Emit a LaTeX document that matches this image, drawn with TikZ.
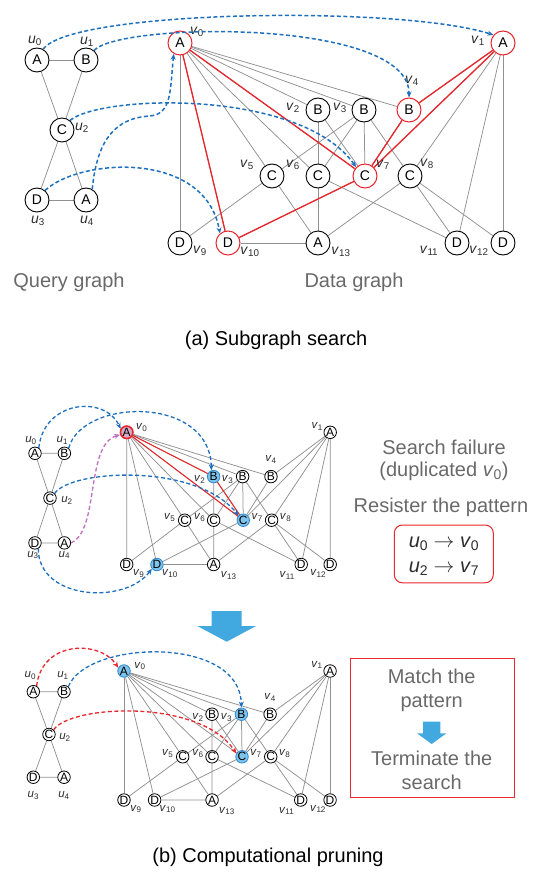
\documentclass[tikz,border=0pt]{standalone}
\usepackage{fontspec}
\setmainfont{Liberation Sans}
\usetikzlibrary{arrows.meta,backgrounds}

\definecolor{edgegray}{RGB}{145,145,145}
\definecolor{hlred}{RGB}{232,38,44}
\definecolor{dashblue}{RGB}{30,112,190}
\definecolor{fillblue}{RGB}{125,195,235}
\definecolor{lineblue}{RGB}{45,135,205}
\definecolor{pinkfill}{RGB}{214,172,200}
\definecolor{purpledash}{RGB}{190,112,190}
\definecolor{textgray}{RGB}{105,105,105}
\definecolor{labgray}{RGB}{45,45,45}
\definecolor{arrowblue}{RGB}{66,168,224}

\newcommand\lv[1]{\textit{v}\textsubscript{#1}}
\newcommand\lu[1]{\textit{u}\textsubscript{#1}}

% per-vertex highlight hooks, empty unless a panel overrides them
\tikzset{
  h0/.style={}, h1/.style={}, h2/.style={}, h3/.style={}, h4/.style={},
  h5/.style={}, h6/.style={}, h7/.style={}, h8/.style={}, h9/.style={},
  h10/.style={}, h11/.style={}, h12/.style={}, h13/.style={},
}

% query graph, in the coordinates of the large copy
\newcommand\QueryGraph[1]{%
  \node[gnode] (#1u0) at (37,60)  {A};
  \node[gnode] (#1u1) at (86,60)  {B};
  \node[gnode] (#1u2) at (62,130) {C};
  \node[gnode] (#1u3) at (37,200) {D};
  \node[gnode] (#1u4) at (86,200) {A};
  \begin{pgfonlayer}{background}
    \foreach \ea/\eb in {0/1,0/2,1/2,2/3,2/4,3/4}
      \draw[gedge] (#1u\ea) -- (#1u\eb);
  \end{pgfonlayer}
}

% data graph, in the coordinates of the large copy
\newcommand\DataGraph[1]{%
  \node[gnode,h0]  (#1v0)  at (180,43)  {A};
  \node[gnode,h1]  (#1v1)  at (503,43)  {A};
  \node[gnode,h2]  (#1v2)  at (318,110) {B};
  \node[gnode,h3]  (#1v3)  at (364,110) {B};
  \node[gnode,h4]  (#1v4)  at (409,110) {B};
  \node[gnode,h5]  (#1v5)  at (272,176) {C};
  \node[gnode,h6]  (#1v6)  at (318,176) {C};
  \node[gnode,h7]  (#1v7)  at (365,176) {C};
  \node[gnode,h8]  (#1v8)  at (410,176) {C};
  \node[gnode,h9]  (#1v9)  at (180,243) {D};
  \node[gnode,h10] (#1v10) at (228,243) {D};
  \node[gnode,h11] (#1v11) at (457,243) {D};
  \node[gnode,h12] (#1v12) at (503,243) {D};
  \node[gnode,h13] (#1v13) at (318,243) {A};
  \begin{pgfonlayer}{background}
    \foreach \ea/\eb in {0/2,0/3,0/4,0/5,0/6,0/7,0/9,0/10,
                         1/4,1/7,1/8,1/11,1/12,2/6,2/7,
                         3/5,3/6,3/7,3/8,4/7,5/9,5/13,
                         6/13,6/11,7/10,8/13,8/11,8/12,10/13}
      \draw[gedge] (#1v\ea) -- (#1v\eb);
  \end{pgfonlayer}
}

% vertex names, placed by offsets from each vertex
\newcommand\DataLabels[2]{%
  \foreach \vi/\dx/\dy in {#2}
    \node[glabel] at ([shift={(\dx,\dy)}]#1v\vi) {\lv{\vi}};
}
\newcommand\QueryLabels[2]{%
  \foreach \vi/\dx/\dy in {#2}
    \node[glabel] at ([shift={(\dx,\dy)}]#1u\vi) {\lu{\vi}};
}

\begin{document}
\begin{tikzpicture}[x=1pt,y=-1pt,
  bignode/.style={circle,draw=black,line width=0.9pt,fill=white,
    minimum size=24pt,inner sep=0pt,font=\fontsize{14}{14}\selectfont},
  smallnode/.style={circle,draw=black,line width=0.8pt,fill=white,
    minimum size=12.5pt,inner sep=0pt,font=\fontsize{12}{12}\selectfont},
  gedge/.style={draw=edgegray,line width=0.75pt},
  redge/.style={draw=hlred,line width=1.3pt},
  glabel/.style={text=labgray,inner sep=0pt,font=\fontsize{14}{14}\selectfont},
  bigtext/.style={text=textgray,inner sep=0pt,align=center,
    font=\fontsize{20}{24}\selectfont},
  captext/.style={text=black,inner sep=0pt,font=\fontsize{20}{24}\selectfont},
  darrow/.style={draw=dashblue,line width=1.5pt,dash pattern=on 4pt off 2.5pt,
    -{Stealth[length=6pt,width=5pt]}},
  rarrow/.style={darrow,draw=hlred},
  parrow/.style={darrow,draw=purpledash},
  redhl/.style={draw=hlred,line width=1pt},
  bluehl/.style={fill=fillblue,draw=lineblue},
]
\useasboundingbox (0,0) rectangle (534,872);

% ---------------- (a) subgraph search ----------------
\begin{scope}[gnode/.style={bignode},
  h0/.style={redhl}, h1/.style={redhl}, h4/.style={redhl},
  h7/.style={redhl}, h10/.style={redhl}]
  \QueryGraph{a}
  \DataGraph{a}
  \begin{pgfonlayer}{background}
    \draw[redge] (av1) -- (av4);
    \draw[redge] (av1) -- (av7);
    \draw[redge] (av4) -- (av7);
    \draw[redge] (av7) -- (av10);
    \draw[redge] (av0) -- (av7);
    \draw[redge] (av0) -- (av10);
  \end{pgfonlayer}
\end{scope}
\DataLabels{a}{0/17/-11,1/-25/-2,2/-25/-2,3/-24/-2,4/3/-29,5/-25/-11,6/-25/-11,
  7/18/-11,8/17/-12,9/20/8,10/22/9,11/-28/8,12/-24/8,13/23/9}
\QueryLabels{a}{0/-2/-19,1/1/-18,2/20/-2,3/1/21,4/1/21}

\draw[darrow] (au0.60) .. controls (70,10) and (400,5) .. (av1.140);
\draw[darrow] (au1.50) .. controls (120,22) and (410,18) .. (av4.north);
\draw[darrow] (au2.50) .. controls (100,95) and (300,88) .. (av7.135);
\draw[darrow] (au3.50) .. controls (80,158) and (205,150) .. (av10.130);
\draw[darrow] (au4.60) .. controls (97,140) and (115,118) .. (150,116)
  .. controls (172,114) and (170,90) .. (av0.240);

\node[bigtext] (qtitle) at (69,282) {Query graph};
\node[bigtext] (dtitle) at (354,282) {Data graph};
\node[captext] (capa) at (276,340) {(a) Subgraph search};

% ---------------- (b) upper: search failure ----------------
\begin{scope}[shift={(35,453.3)},xscale=0.6,yscale=0.64,shift={(-37,-60)},
  gnode/.style={smallnode}]
  \QueryGraph{b}
\end{scope}
\begin{scope}[shift={(126.7,432.3)},xscale=0.63,yscale=0.661,shift={(-180,-43)},
  gnode/.style={smallnode},
  h0/.style={draw=hlred,line width=1.6pt,fill=pinkfill},
  h2/.style={bluehl}, h7/.style={bluehl}, h10/.style={bluehl}]
  \DataGraph{b}
  \begin{pgfonlayer}{background}
    \draw[redge,line width=1pt] (bv0) -- (bv2);
    \draw[redge,line width=1pt] (bv0) -- (bv7);
    \draw[redge,line width=1pt] (bv2) -- (bv7);
  \end{pgfonlayer}
\end{scope}
\begin{scope}[glabel/.append style={font=\fontsize{11.5}{11.5}\selectfont}]
  \DataLabels{b}{0/15/-5,1/-13/-6,2/-14/3,3/-15/3,4/0/-17,5/-15/-3,6/-14/-3,
    7/14/-3,8/14/-3,9/12/9,10/13/9,11/-14/11,12/-12/9,13/15/11}
  \QueryLabels{b}{0/-4/-13,1/-2/-13,2/17/2,3/-2/12,4/0/12}
\end{scope}

\begin{scope}[darrow/.append style={line width=1.3pt}]
  \draw[darrow] (bu0.55) .. controls (44,400) and (105,395) .. (bv0.150);
  \draw[darrow] (bu1.50) .. controls (82,398) and (210,395) .. (bv2.110);
  \draw[darrow] (bu2.45) .. controls (70,470) and (195,462) .. (bv7.135);
  \draw[darrow] (bu3.-60) .. controls (38,600) and (125,605) .. (bv10.220);
  \draw[parrow] (bu4.east) .. controls (100,530) and (85,445) .. (bv0.200);
\end{scope}

\node[bigtext] (fail) at (444,447) {Search failure};
\node[bigtext] (dup) at (444,471) {(duplicated \lv{0})};
\node[bigtext] (reg) at (441,507) {Resister the pattern};
\node[draw=hlred,line width=1pt,rounded corners=8pt,minimum width=99pt,
  minimum height=57.7pt,inner sep=0pt] (patbox) at (443.8,553.9) {};
\node[captext,text=labgray] (pat1) at (444,543.5) {\lu{0} $\rightarrow$ \lv{0}};
\node[captext,text=labgray] (pat2) at (444,568.5) {\lu{2} $\rightarrow$ \lv{7}};

% transition arrow
\fill[arrowblue] (211.7,611) -- (241.7,611) -- (241.7,626) -- (256,626)
  -- (226.7,641.7) -- (197.3,626) -- (211.7,626) -- cycle;

% ---------------- (b) lower: pruning ----------------
\begin{scope}[shift={(33.3,691.7)},xscale=0.627,yscale=0.611,shift={(-37,-60)},
  gnode/.style={smallnode}]
  \QueryGraph{c}
\end{scope}
\begin{scope}[shift={(124,671)},xscale=0.638,yscale=0.645,shift={(-180,-43)},
  gnode/.style={smallnode},
  h0/.style={bluehl}, h3/.style={bluehl}, h7/.style={bluehl}]
  \DataGraph{c}
\end{scope}
\begin{scope}[glabel/.append style={font=\fontsize{11.5}{11.5}\selectfont}]
  \DataLabels{c}{0/16/-5,1/-13/-6,2/-14/3,3/-15/3,4/0/-17,5/-15/-3,6/-14/-3,
    7/14/-3,8/14/-3,9/12/9,10/13/9,11/-14/11,12/-12/9,13/15/11}
  \QueryLabels{c}{0/-3/-16,1/-1/-16,2/16/3,3/0/18,4/0/18}
\end{scope}

\begin{scope}[darrow/.append style={line width=1.3pt}]
  \draw[rarrow] (cu0.60) .. controls (42,640) and (100,640) .. (cv0.150);
  \draw[darrow] (cu1.50) .. controls (87,640) and (240,635) .. (cv3.north);
  \draw[rarrow] (cu2.45) .. controls (70,705) and (200,698) .. (cv7.150);
\end{scope}

\node[draw=hlred,line width=1pt,minimum width=164.3pt,minimum height=139.4pt,
  inner sep=0pt] (termbox) at (432.2,728) {};
\node[bigtext] (match) at (431.7,690) {Match the\\pattern};
\fill[arrowblue] (423,721.7) -- (440.4,721.7) -- (440.4,733.3) -- (446.4,733.3)
  -- (431.7,744) -- (417,733.3) -- (423,733.3) -- cycle;
\node[bigtext] (term) at (431.7,770) {Terminate the\\search};

\node[captext] (capb) at (268,857) {(b) Computational pruning};
\end{tikzpicture}
\end{document}
